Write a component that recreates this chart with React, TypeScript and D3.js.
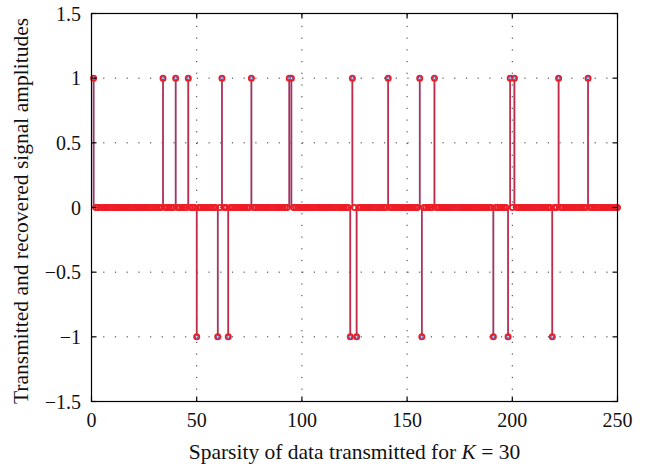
import React from "react";
import * as d3 from "d3";

// ---- data ----
const N = 250;
const indices: number[] = d3.range(1, N + 1);
const positiveIdx: number[] = [1, 34, 40, 46, 62, 76, 94, 95, 124, 141, 156, 163, 199, 201, 222, 236];
const negativeIdx: number[] = [50, 60, 65, 123, 126, 157, 191, 198, 219];
const transmitted: number[] = indices.map((n) =>
  positiveIdx.includes(n) ? 1 : negativeIdx.includes(n) ? -1 : 0
);
const recovered: number[] = transmitted.slice();
const xTicks: number[] = [0, 50, 100, 150, 200, 250];
const yTicks: number[] = [-1.5, -1, -0.5, 0, 0.5, 1, 1.5];

const W = 651;
const H = 466;
const M = { left: 91.5, top: 13.5, right: 617.5, bottom: 401.5 };
const FONT = "'Liberation Serif', 'DejaVu Serif', serif";
const RED = "#ee1c25";
const BLUE = "#4a58a8";

const fmt = (v: number) => (v < 0 ? "\u2212" + String(-v) : String(v));

export default function App() {
  const x = d3.scaleLinear().domain([0, 250]).range([M.left, M.right]);
  const y = d3.scaleLinear().domain([-1.5, 1.5]).range([M.bottom, M.top]);
  const tickLen = 5;

  return (
    <svg
      width={W}
      height={H}
      style={{ position: "absolute", left: 0, top: 0, background: "#fff" }}
      fontFamily={FONT}
    >
      <rect x={0} y={0} width={W} height={H} fill="#fff" />
      {/* grid */}
      <g stroke="#333" strokeWidth={1} strokeDasharray="1.2 10.5">
        {xTicks
          .filter((t) => t > 0 && t < 250)
          .map((t) => (
            <line key={"gx" + t} x1={x(t)} x2={x(t)} y1={M.bottom} y2={M.top} />
          ))}
        {yTicks
          .filter((t) => t > -1.5 && t < 1.5)
          .map((t) => (
            <line key={"gy" + t} x1={M.left} x2={M.right} y1={y(t)} y2={y(t)} />
          ))}
      </g>
      {/* transmitted (blue) stems */}
      <g>
        {indices.map((n, i) =>
          transmitted[i] !== 0 ? (
            <line
              key={"bs" + n}
              x1={x(n)}
              x2={x(n)}
              y1={y(0)}
              y2={y(transmitted[i])}
              stroke={BLUE}
              strokeWidth={1.6}
            />
          ) : null
        )}
      </g>
      {/* recovered (red) */}
      <g>
        {indices.map((n, i) =>
          recovered[i] !== 0 ? (
            <line
              key={"rs" + n}
              x1={x(n)}
              x2={x(n)}
              y1={y(0)}
              y2={y(recovered[i])}
              stroke={RED}
              strokeWidth={1.6}
              strokeOpacity={0.72}
            />
          ) : null
        )}
        {indices.map((n, i) => (
          <circle
            key={"rc" + n}
            cx={x(n)}
            cy={y(recovered[i])}
            r={2.6}
            fill="none"
            stroke={RED}
            strokeWidth={1.8}
          />
        ))}
      </g>
      <g>
        {indices.map((n, i) =>
          transmitted[i] !== 0 ? (
            <circle
              key={"bc" + n}
              cx={x(n)}
              cy={y(transmitted[i])}
              r={1.5}
              fill="#c8cbe8"
              stroke={BLUE}
              strokeWidth={1}
            />
          ) : null
        )}
      </g>
      {/* frame */}
      <rect
        x={M.left}
        y={M.top}
        width={M.right - M.left}
        height={M.bottom - M.top}
        fill="none"
        stroke="#000"
        strokeWidth={1.2}
      />
      {/* ticks */}
      <g stroke="#000" strokeWidth={1.2}>
        {xTicks.map((t) => (
          <g key={"tx" + t}>
            <line x1={x(t)} x2={x(t)} y1={M.bottom} y2={M.bottom - tickLen} />
            <line x1={x(t)} x2={x(t)} y1={M.top} y2={M.top + tickLen} />
          </g>
        ))}
        {yTicks.map((t) => (
          <g key={"ty" + t}>
            <line x1={M.left} x2={M.left + tickLen} y1={y(t)} y2={y(t)} />
            <line x1={M.right} x2={M.right - tickLen} y1={y(t)} y2={y(t)} />
          </g>
        ))}
      </g>
      {/* tick labels */}
      <g fontSize={20} fill="#111">
        {xTicks.map((t) => (
          <text key={"lx" + t} x={x(t)} y={427} textAnchor="middle">
            {fmt(t)}
          </text>
        ))}
        {yTicks.map((t) => (
          <text key={"ly" + t} x={81} y={y(t) + 7} textAnchor="end">
            {fmt(t)}
          </text>
        ))}
      </g>
      {/* axis labels */}
      <text x={(M.left + M.right) / 2} y={459} textAnchor="middle" fontSize={21.5} fill="#111">
        Sparsity of data transmitted for <tspan fontStyle="italic">K</tspan> = 30
      </text>
      <text
        transform={`translate(28, 211) rotate(-90)`}
        textAnchor="middle"
        fontSize={21.5}
        fill="#111"
      >
        Transmitted and recovered signal amplitudes
      </text>
    </svg>
  );
}
